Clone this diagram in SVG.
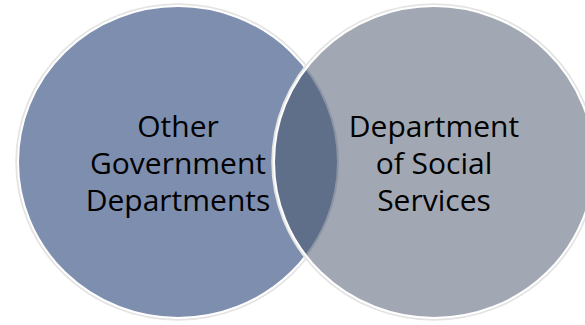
<svg xmlns="http://www.w3.org/2000/svg" width="585" height="325" viewBox="0 0 585 325">
  <style>
    .shadow { fill: none; stroke: #e4e4e4; stroke-width: 2.5; }
    .edge { fill: none; stroke: #ffffff; stroke-width: 2; }
    .label { font-family: "Open Sans", "Noto Sans", "Liberation Sans", sans-serif; font-size: 30px; fill: #000000; text-anchor: middle; }
  </style>
  <defs>
    <clipPath id="clipRight">
      <ellipse cx="434" cy="162" rx="160" ry="156"/>
    </clipPath>
  </defs>
  <rect width="585" height="325" fill="#ffffff"/>
  <g id="node-other-government">
    <ellipse class="shadow" cx="178" cy="162" rx="161.5" ry="157.5"/>
    <ellipse cx="178" cy="162" rx="160" ry="156" fill="#7E8EAF"/>
    <ellipse class="edge" cx="178" cy="162" rx="160" ry="156"/>
  </g>
  <g id="node-social-services">
    <ellipse class="shadow" cx="434" cy="162" rx="161.5" ry="157.5"/>
    <ellipse cx="434" cy="162" rx="160" ry="156" fill="#A2A8B3"/>
  </g>
  <g id="overlap">
    <ellipse cx="178" cy="162" rx="160" ry="156" fill="#5F6F8A" clip-path="url(#clipRight)"/>
    <ellipse cx="178" cy="162" rx="160" ry="156" fill="none" stroke="#8C95A4" stroke-width="2" clip-path="url(#clipRight)"/>
    <ellipse class="edge" cx="434" cy="162" rx="160" ry="156"/>
  </g>
  <g id="labels">
    <text class="label" x="178" y="137">Other</text>
    <text class="label" x="178" y="174">Government</text>
    <text class="label" x="178" y="211">Departments</text>
    <text class="label" x="434" y="137">Department</text>
    <text class="label" x="434" y="174">of Social</text>
    <text class="label" x="434" y="211">Services</text>
  </g>
</svg>
